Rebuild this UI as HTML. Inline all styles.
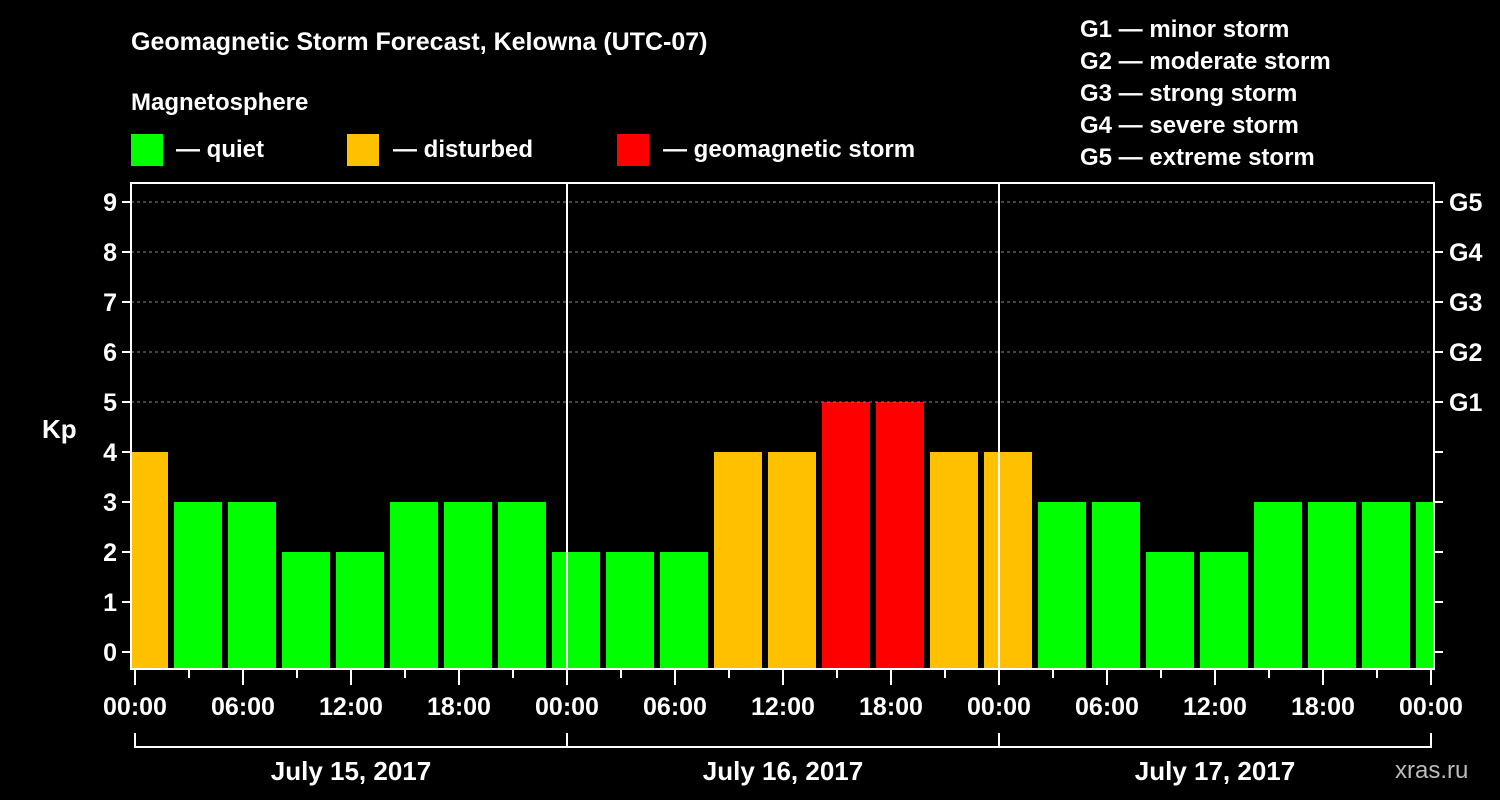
<!DOCTYPE html>
<html><head><meta charset="utf-8"><style>
html,body{margin:0;padding:0;background:#000;width:1500px;height:800px;overflow:hidden}
svg text{font-family:"Liberation Sans",Arial,sans-serif;font-weight:bold;fill:#fff}
</style></head><body>
<svg id="chart" width="1500" height="800" xmlns="http://www.w3.org/2000/svg">
<rect width="1500" height="800" fill="#000"/>
<text x="131" y="50" font-size="25">Geomagnetic Storm Forecast, Kelowna (UTC-07)</text>
<text x="131" y="110" font-size="24">Magnetosphere</text>
<g><rect x="131" y="134" width="32" height="32" fill="#00ff00"/><text x="176" y="157" font-size="24">— quiet</text></g>
<g><rect x="347" y="134" width="32" height="32" fill="#ffc000"/><text x="393" y="157" font-size="24">— disturbed</text></g>
<g><rect x="617" y="134" width="32" height="32" fill="#ff0000"/><text x="663" y="157" font-size="24">— geomagnetic storm</text></g>
<g font-size="24">
<text x="1080" y="37">G1 — minor storm</text>
<text x="1080" y="69">G2 — moderate storm</text>
<text x="1080" y="101">G3 — strong storm</text>
<text x="1080" y="133">G4 — severe storm</text>
<text x="1080" y="165">G5 — extreme storm</text>
</g>
<text x="42" y="438" font-size="26">Kp</text>
<text x="1395" y="778" font-size="24" fill="#bbb" style="fill:#bbb;font-weight:normal">xras.ru</text>
<g id="plot"></g>
</svg>
<script>
const values = [4,3,3,2,2,3,3,3,2,2,2,4,4,5,5,4,4,3,3,2,2,3,3,3,3];
const yTicks = [0,1,2,3,4,5,6,7,8,9];
const gLabels = ["G1","G2","G3","G4","G5"];
const gLevels = [5,6,7,8,9];
const timeLabels = ["00:00","06:00","12:00","18:00","00:00","06:00","12:00","18:00","00:00","06:00","12:00","18:00","00:00"];
const dayLabels = ["July 15, 2017","July 16, 2017","July 17, 2017"];
const firstBarHour = -0.8333;
const NS="http://www.w3.org/2000/svg";
const L=131,R=1434,T=183,B=669,X0=135,PXH=18;
const xh=h=>X0+h*PXH;
const y=v=>652-v*50;
const g=document.getElementById('plot');
function mk(t,a,p){const e=document.createElementNS(NS,t);for(const k in a)e.setAttribute(k,a[k]);(p||g).appendChild(e);return e;}
const clip=mk('clipPath',{id:'pc'});mk('rect',{x:L+1,y:T,width:R-L-2,height:B-T},clip);
const bars=mk('g',{'clip-path':'url(#pc)'});


values.forEach((v,i)=>{const x=xh(firstBarHour+i*3);const r=mk('rect',{x:x,y:y(v),width:48,height:B-y(v),fill:v>=5?'#ff0000':v>=4?'#ffc000':'#00ff00'},bars);

});
yTicks.forEach(t=>{const yy=y(t);
if(t>=5){const gl=mk('line',{x1:L,x2:R,y1:yy,y2:yy,stroke:'#888','stroke-dasharray':'3,3','stroke-width':1});}
mk('line',{x1:L-9,x2:L,y1:yy,y2:yy,stroke:'#fff','stroke-width':2});
mk('line',{x1:R,x2:R+9,y1:yy,y2:yy,stroke:'#fff','stroke-width':2});
const tx=mk('text',{x:L-14,y:yy+9,'font-size':25,'text-anchor':'end'});tx.textContent=t;
});
gLevels.forEach((lv,i)=>{const tx=mk('text',{x:R+15,y:y(lv)+9,'font-size':25});tx.textContent=gLabels[i];
});
for(let d=1;d<3;d++){mk('line',{x1:xh(d*24),x2:xh(d*24),y1:T,y2:B,stroke:'#fff','stroke-width':2});}
mk('rect',{x:L,y:T,width:R-L,height:B-T,fill:'none',stroke:'#fff','stroke-width':2});
for(let h=0;h<=72;h+=3){const x=xh(h);mk('line',{x1:x,x2:x,y1:B,y2:h%6==0?B+16:B+9,stroke:'#fff','stroke-width':2});}
timeLabels.forEach((s,i)=>{const tx=mk('text',{x:xh(i*6),y:715,'font-size':25,'text-anchor':'middle'});tx.textContent=s;
});
mk('line',{x1:xh(0),x2:xh(72),y1:747,y2:747,stroke:'#fff','stroke-width':2});
for(let d=0;d<=3;d++)mk('line',{x1:xh(d*24),x2:xh(d*24),y1:733,y2:748,stroke:'#fff','stroke-width':2});
dayLabels.forEach((s,i)=>{const tx=mk('text',{x:xh(i*24+12),y:780,'font-size':26,'text-anchor':'middle'});tx.textContent=s;
});
</script>
</body></html>
